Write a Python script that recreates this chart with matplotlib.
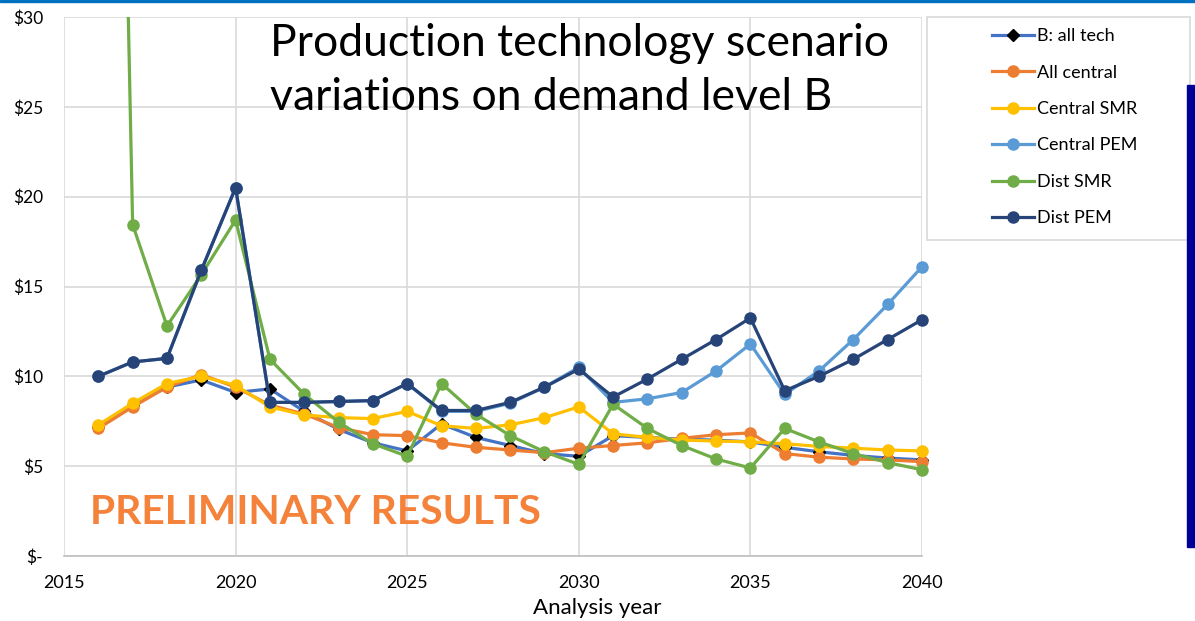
import matplotlib.pyplot as plt
from matplotlib.patches import Rectangle
from matplotlib.transforms import Bbox, TransformedBbox

plt.rcParams['font.family'] = ['Lato', 'DejaVu Sans']

years = list(range(2016, 2041))

b_all_tech = [7.2, 8.4, 9.4, 9.8, 9.1, 9.3, 8.05, 7.05, 6.3, 5.85, 7.35, 6.6, 6.15,
              5.7, 5.55, 6.7, 6.6, 6.5, 6.45, 6.35, 6.05, 5.8, 5.6, 5.45, 5.35]
all_central = [7.1, 8.3, 9.4, 10.1, 9.4, 8.4, 7.9, 7.15, 6.75, 6.7, 6.3, 6.05, 5.9,
               5.75, 6.0, 6.15, 6.3, 6.55, 6.75, 6.85, 5.7, 5.5, 5.4, 5.35, 5.25]
central_smr = [7.3, 8.5, 9.6, 10.0, 9.5, 8.3, 7.85, 7.7, 7.65, 8.05, 7.25, 7.1, 7.3,
               7.7, 8.3, 6.8, 6.6, 6.45, 6.4, 6.35, 6.25, 6.1, 6.0, 5.9, 5.85]
central_pem = [10.0, 10.8, 11.0, 15.9, 20.5, 8.55, 8.55, 8.6, 8.65, 9.6, 8.05, 8.05, 8.5,
               9.4, 10.5, 8.55, 8.75, 9.1, 10.3, 11.8, 9.0, 10.3, 12.05, 14.0, 16.1]
dist_smr = [110.0, 18.45, 12.8, 15.65, 18.7, 10.95, 9.0, 7.45, 6.25, 5.55, 9.6, 7.9, 6.7,
            5.8, 5.1, 8.45, 7.1, 6.15, 5.4, 4.9, 7.1, 6.35, 5.7, 5.2, 4.8]
dist_pem = [10.0, 10.8, 11.0, 15.9, 20.5, 8.55, 8.55, 8.6, 8.65, 9.6, 8.1, 8.1, 8.55,
            9.4, 10.4, 8.85, 9.85, 10.95, 12.05, 13.25, 9.2, 10.0, 10.95, 12.05, 13.15]

labels = ['B: all tech', 'All central', 'Central SMR', 'Central PEM', 'Dist SMR', 'Dist PEM']
colors = ['#4472C4', '#ED7D31', '#FFC000', '#5B9BD5', '#70AD47', '#264478']
series = [b_all_tech, all_central, central_smr, central_pem, dist_smr, dist_pem]

y_ticks = [0, 5, 10, 15, 20, 25, 30]
y_labels = ['$-', '$5', '$10', '$15', '$20', '$25', '$30']
x_ticks = [2015, 2020, 2025, 2030, 2035, 2040]

W, H = 1195, 621
fig = plt.figure(figsize=(W / 100, H / 100), dpi=100)
ax = fig.add_axes([64 / W, 1 - 556 / H, (922 - 64) / W, (556 - 17) / H])

# clip only at the top/bottom so the 2040 markers stay whole
clip_box = TransformedBbox(Bbox([[-0.05, -0.05], [1.05, 1.0]]), ax.transAxes)

handles = []
for vals, col, lab in zip(series, colors, labels):
    if lab == 'B: all tech':
        h, = ax.plot(years, vals, color=col, lw=2.3, marker='D', ms=6.5,
                     mfc='black', mec='black', label=lab, zorder=3)
    else:
        h, = ax.plot(years, vals, color=col, lw=2.3, marker='o', ms=8,
                     mfc=col, mec=col, label=lab, zorder=3)
    h.set_clip_box(clip_box)
    handles.append(h)

ax.set_xlim(2015, 2040)
ax.set_ylim(0, 30)
ax.set_xticks(x_ticks)
ax.set_yticks(y_ticks)
ax.set_yticklabels(y_labels)
ax.grid(True, color='#D9D9D9', lw=1.2)
ax.set_axisbelow(True)
for s in ['top', 'right', 'left']:
    ax.spines[s].set_visible(False)
ax.spines['bottom'].set_color('#BFBFBF')
ax.spines['bottom'].set_linewidth(1.2)
ax.tick_params(length=0, colors='black')
ax.tick_params(axis='x', pad=14, labelsize=13)
ax.tick_params(axis='y', pad=15, labelsize=12.5)

fig.text(597 / W, 1 - 608 / H, 'Analysis year', ha='center', va='center', fontsize=16)

ax.text(270 / W, 1 - 43 / H, 'Production technology scenario', transform=fig.transFigure,
        fontsize=32, va='center', ha='left')
ax.text(270 / W, 1 - 98 / H, 'variations on demand level B', transform=fig.transFigure,
        fontsize=32, va='center', ha='left')
ax.text(90 / W, 1 - 513 / H, 'PRELIMINARY RESULTS', transform=fig.transFigure,
        fontsize=29.3, fontweight='bold', color='#F4823A', va='center', ha='left')

# legend box
fig.patches.append(Rectangle((927 / W, 1 - 240 / H), (1190 - 927) / W, (240 - 17) / H,
                             transform=fig.transFigure, fill=False, ec='#D9D9D9', lw=1.2))
fig.legend(handles=handles, loc='upper left', bbox_to_anchor=(985 / W, 1 - 21 / H),
           frameon=False, fontsize=13, handlelength=2.3, handletextpad=0.2,
           labelspacing=1.13, borderaxespad=0)

# slide decorations
fig.patches.append(Rectangle((0, 1 - 2 / H), 1, 2 / H, transform=fig.transFigure,
                             color='#0070C0'))
fig.patches.append(Rectangle((1187 / W, 1 - 547 / H), 8 / W, (547 - 85) / H,
                             transform=fig.transFigure, color='#000099'))

fig.savefig('out.png', dpi=100)
